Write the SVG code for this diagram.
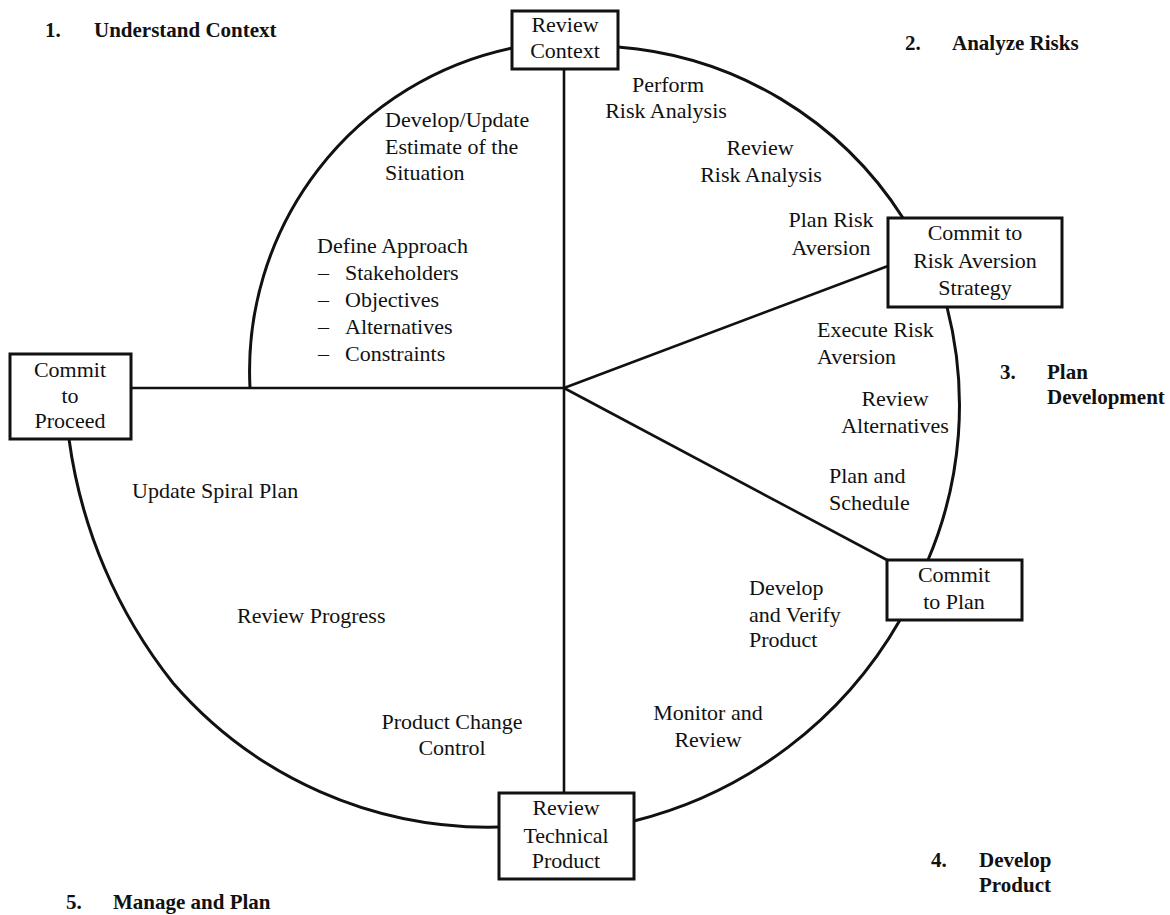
<svg xmlns="http://www.w3.org/2000/svg" width="1170" height="915" viewBox="0 0 1170 915">
<style>
.lbl{font-family:"Liberation Serif","Times New Roman",serif;font-size:22px;fill:#111}
.c{text-anchor:middle}
.hd{font-family:"Liberation Serif","Times New Roman",serif;font-size:21px;font-weight:bold;fill:#111}
.box{fill:#fff;stroke:#111;stroke-width:3}
.ln{fill:none;stroke:#111;stroke-width:2.6}
.sp{fill:none;stroke:#111;stroke-width:3}
</style>
<rect width="1170" height="915" fill="#fff"/>
<g id="connectors">
<line class="ln" x1="564" y1="69" x2="564" y2="793"/>
<line class="ln" x1="131" y1="388" x2="564" y2="388"/>
<line class="ln" x1="564" y1="388" x2="888" y2="266"/>
<line class="ln" x1="564" y1="388" x2="887" y2="560"/>
<path class="sp" d="M250 388 A330 330 0 0 1 512 48"/>
<path class="sp" d="M618 47 A372 372 0 0 1 903 218"/>
<path class="sp" d="M947 307 A395 395 0 0 1 928 560"/>
<path class="sp" d="M900 620 A425 425 0 0 1 634 821"/>
<path class="sp" d="M499 827 A417 417 0 0 1 173 683 A500 500 0 0 1 69 439"/>
</g>
<g id="review-context">
<rect class="box" x="512" y="11" width="106" height="58"/>
<text class="lbl c" x="565" y="32">Review</text>
<text class="lbl c" x="565" y="58">Context</text>
</g>
<g id="commit-risk-aversion">
<rect class="box" x="888" y="218" width="174" height="89"/>
<text class="lbl c" x="975" y="240">Commit to</text>
<text class="lbl c" x="975" y="268">Risk Aversion</text>
<text class="lbl c" x="975" y="295">Strategy</text>
</g>
<g id="commit-plan">
<rect class="box" x="887" y="560" width="135" height="60"/>
<text class="lbl c" x="954" y="582">Commit</text>
<text class="lbl c" x="954" y="609">to Plan</text>
</g>
<g id="review-technical-product">
<rect class="box" x="499" y="793" width="135" height="86"/>
<text class="lbl c" x="566" y="815">Review</text>
<text class="lbl c" x="566" y="843">Technical</text>
<text class="lbl c" x="566" y="868">Product</text>
</g>
<g id="commit-proceed">
<rect class="box" x="10" y="354" width="121" height="85"/>
<text class="lbl c" x="70" y="377">Commit</text>
<text class="lbl c" x="70" y="403">to</text>
<text class="lbl c" x="70" y="428">Proceed</text>
</g>
<g id="headings">
<text class="hd" x="45" y="37">1.</text>
<text class="hd" x="94" y="37">Understand Context</text>
<text class="hd" x="905" y="50">2.</text>
<text class="hd" x="952" y="50">Analyze Risks</text>
<text class="hd" x="1000" y="379">3.</text>
<text class="hd" x="1047" y="379">Plan</text>
<text class="hd" x="1047" y="404">Development</text>
<text class="hd" x="931" y="867">4.</text>
<text class="hd" x="979" y="867">Develop</text>
<text class="hd" x="979" y="892">Product</text>
<text class="hd" x="66" y="909">5.</text>
<text class="hd" x="113" y="909">Manage and Plan</text>
</g>
<g id="activities">
<text class="lbl c" x="668" y="92">Perform</text>
<text class="lbl c" x="666" y="118">Risk Analysis</text>
<text class="lbl" x="385" y="127">Develop/Update</text>
<text class="lbl" x="385" y="154">Estimate of the</text>
<text class="lbl" x="385" y="180">Situation</text>
<text class="lbl c" x="760" y="155">Review</text>
<text class="lbl c" x="761" y="182">Risk Analysis</text>
<text class="lbl c" x="831" y="227">Plan Risk</text>
<text class="lbl c" x="831" y="255">Aversion</text>
<text class="lbl" x="317" y="253">Define Approach</text>
<text class="lbl" x="318" y="280">–</text><text class="lbl" x="345" y="280">Stakeholders</text>
<text class="lbl" x="318" y="307">–</text><text class="lbl" x="345" y="307">Objectives</text>
<text class="lbl" x="318" y="334">–</text><text class="lbl" x="345" y="334">Alternatives</text>
<text class="lbl" x="318" y="361">–</text><text class="lbl" x="345" y="361">Constraints</text>
<text class="lbl" x="817" y="337">Execute Risk</text>
<text class="lbl" x="817" y="364">Aversion</text>
<text class="lbl c" x="895" y="406">Review</text>
<text class="lbl c" x="895" y="433">Alternatives</text>
<text class="lbl" x="829" y="483">Plan and</text>
<text class="lbl" x="829" y="510">Schedule</text>
<text class="lbl" x="132" y="498">Update Spiral Plan</text>
<text class="lbl" x="237" y="623">Review Progress</text>
<text class="lbl" x="749" y="595">Develop</text>
<text class="lbl" x="749" y="622">and Verify</text>
<text class="lbl" x="749" y="647">Product</text>
<text class="lbl c" x="708" y="720">Monitor and</text>
<text class="lbl c" x="708" y="747">Review</text>
<text class="lbl c" x="452" y="729">Product Change</text>
<text class="lbl c" x="452" y="755">Control</text>
</g>
</svg>
